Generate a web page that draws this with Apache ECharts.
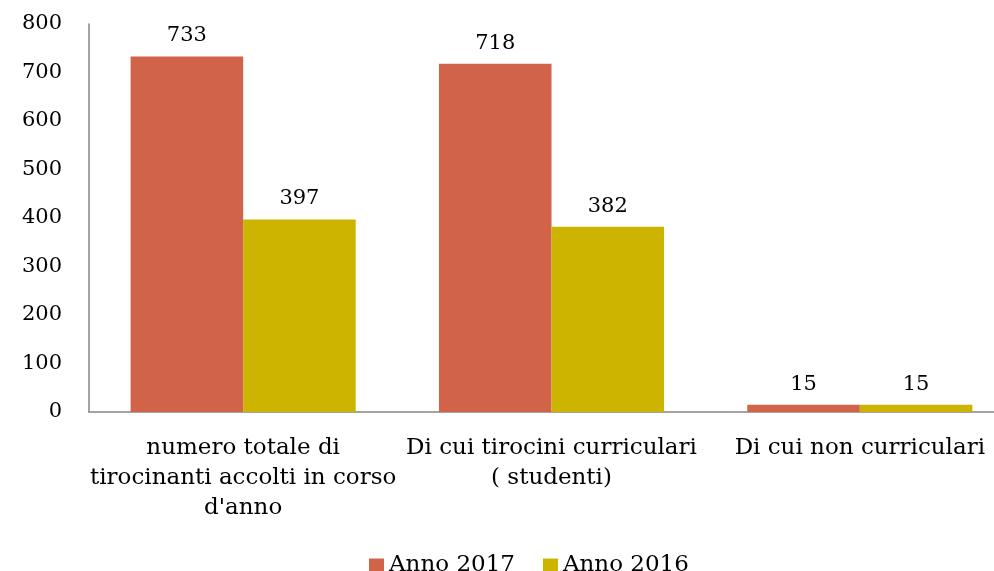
<!DOCTYPE html>
<html>
<head>
<meta charset="utf-8">
<script src="https://cdn.jsdelivr.net/npm/echarts@6/dist/echarts.min.js"></script>
<style>
  html, body { margin: 0; padding: 0; background: #fff; overflow: hidden; }
  /* the plot runs past the right edge of the picture, as in the original */
  #chart { width: 1014px; height: 571px; }
</style>
</head>
<body>
<div id="chart"></div>
<script>
const categories = [
  'numero totale di\ntirocinanti accolti in corso\nd\'anno',
  'Di cui tirocini curriculari\n( studenti)',
  'Di cui non curriculari'
]
const anno2017 = [733, 718, 15]
const anno2016 = [397, 382, 15]

const font = 'Georgia, "DejaVu Serif", serif'
const chart = echarts.init(document.getElementById('chart'))

const labelStyle = {
  show: true,
  position: 'top',
  distance: 10,
  color: '#000',
  fontFamily: font,
  fontSize: 21
}

chart.setOption({
  animation: false,
  grid: { left: 89, right: 0, top: 24, bottom: 159, containLabel: false },
  legend: {
    top: 549,
    left: 364,
    itemWidth: 15,
    itemHeight: 14,
    itemGap: 28,
    icon: 'rect',
    textStyle: { fontFamily: font, fontSize: 23, color: '#000' },
    data: ['Anno 2017', 'Anno 2016']
  },
  xAxis: {
    type: 'category',
    data: categories,
    axisLine: { lineStyle: { color: '#868686', width: 1.5 } },
    axisTick: { show: false },
    axisLabel: {
      interval: 0,
      margin: 21,
      color: '#000',
      fontFamily: font,
      fontSize: 23,
      lineHeight: 30,
      align: 'center'
    }
  },
  yAxis: {
    type: 'value',
    min: 0,
    max: 800,
    interval: 100,
    axisLine: { show: true, lineStyle: { color: '#868686', width: 1.5 } },
    axisTick: { show: false },
    splitLine: { show: false },
    axisLabel: {
      margin: 27,
      color: '#000',
      fontFamily: font,
      fontSize: 21
    }
  },
  series: [
    {
      name: 'Anno 2017',
      type: 'bar',
      data: anno2017,
      barGap: '0%',
      barCategoryGap: '27%',
      itemStyle: { color: '#D16349' },
      label: labelStyle
    },
    {
      name: 'Anno 2016',
      type: 'bar',
      data: anno2016,
      itemStyle: { color: '#CCB400' },
      label: labelStyle
    }
  ]
})
</script>
</body>
</html>
